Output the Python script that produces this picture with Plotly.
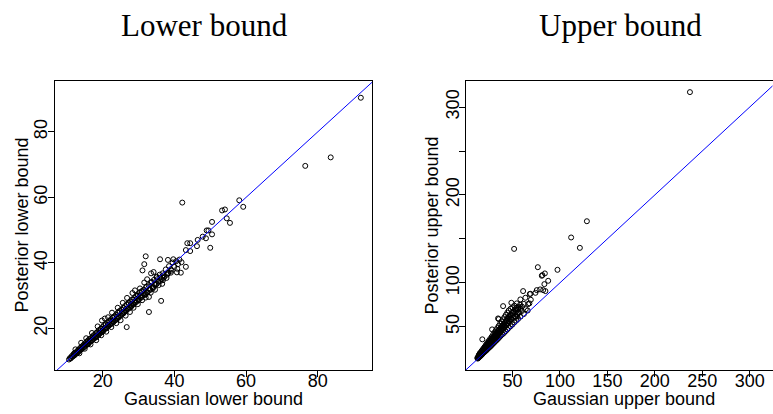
import plotly.graph_objects as go

# ---------------- data: Lower bound panel ----------------
lower_gauss = [
    10.6, 10.9, 11.2, 11.4, 11.7, 11.9, 12.1, 12.3, 12.6, 12.8, 13.0, 13.2, 13.5, 13.7, 13.9, 14.1, 14.3, 14.6, 14.8, 15.0,
    15.2, 15.5, 15.7, 15.9, 16.1, 16.3, 16.5, 16.8, 17.0, 17.2, 17.4, 17.6, 17.9, 18.1, 18.3, 18.5, 18.8, 19.0, 19.2, 19.5,
    19.7, 19.9, 20.2, 20.4, 20.6, 20.9, 21.1, 21.3, 21.6, 21.8, 22.0, 22.3, 22.5, 22.8, 23.0, 23.2, 23.5, 23.7, 24.0, 24.2,
    24.5, 24.7, 25.0, 25.2, 25.5, 25.7, 26.0, 26.2, 26.5, 26.7, 27.0, 27.2, 27.5, 27.7, 28.0, 28.2, 28.5, 28.8, 29.0, 29.3,
    29.5, 29.8, 30.0, 30.3, 30.6, 30.9, 31.2, 31.5, 31.8, 32.1, 32.4, 32.8, 33.2, 33.5, 33.9, 34.3, 34.7, 35.1, 35.5, 35.9,
    36.3, 36.7, 37.2, 37.6, 38.1, 38.5, 39.0, 39.5, 40.0, 40.5, 41.0, 41.4, 42.0,
    12.4, 14.0, 15.4, 17.0, 18.6, 19.8, 20.6, 21.5, 22.6, 24.2, 25.6, 26.8, 28.3, 29.0, 30.4, 31.6, 32.4, 33.5, 34.2, 35.0,
    13.5, 15.0, 16.6, 18.2, 19.6, 21.0, 22.4, 23.8, 25.0, 26.4, 27.6, 28.6, 29.8, 31.0, 32.0, 33.4, 34.6, 35.6, 36.6, 37.8,
    39.0, 40.8, 41.8,
    92.0, 76.5, 83.6, 42.2, 58.1, 59.2, 53.3, 54.1, 54.6, 55.5, 50.5, 50.5, 49.0, 49.5, 47.9, 48.8, 50.0, 46.3, 46.5, 43.6,
    44.4, 43.2, 44.4, 43.2, 40.7, 39.7, 38.2, 36.0, 32.0, 31.6, 31.1, 36.3, 32.9, 26.7, 32.9, 36.8,
    11.0, 11.5, 12.0, 12.5, 13.0, 13.6, 14.2, 14.9, 15.6, 16.2, 16.9, 17.5, 18.2, 18.9, 19.5, 20.2, 20.9, 21.6, 22.3, 23.0,
    23.7, 24.4, 25.1, 25.8, 26.5, 27.2, 27.9, 28.6, 29.3, 30.0, 30.8, 31.6, 32.5, 33.3, 34.1, 35.0, 36.0, 37.0, 38.0, 39.2,
    12.2, 12.9, 13.4, 14.0, 14.6, 15.3, 15.8, 16.4, 17.1, 17.7, 18.4, 19.0, 19.6, 20.3, 20.8, 21.4, 22.1, 22.7, 23.3, 23.9,
    24.6, 25.3, 25.9, 26.6, 27.3, 27.9, 28.5, 29.1, 29.7, 30.4, 31.0, 31.7, 32.3, 33.0, 33.7, 34.4, 35.2, 36.1, 37.0, 38.3,
    16.0, 18.0, 20.0, 22.0, 24.0, 26.0, 28.0, 30.0, 32.0, 34.0,
]
lower_post = [
    10.5, 11.0, 11.0, 11.6, 11.5, 12.2, 11.8, 12.5, 12.3, 13.0, 12.7, 13.4, 13.1, 14.0, 13.5, 14.4, 13.9, 14.8, 14.3, 15.4,
    14.8, 15.9, 15.2, 16.3, 15.6, 16.8, 16.0, 17.0, 16.4, 17.6, 16.9, 18.0, 17.2, 18.5, 17.6, 18.9, 18.0, 19.5, 18.5, 19.9,
    18.9, 20.4, 19.4, 21.0, 19.8, 21.3, 20.2, 21.8, 20.7, 22.2, 21.1, 22.8, 21.6, 23.3, 22.0, 23.6, 22.5, 24.2, 23.0, 24.8,
    23.5, 25.3, 24.0, 25.7, 24.4, 26.3, 25.0, 26.8, 25.5, 27.3, 26.0, 27.8, 26.4, 28.2, 27.0, 28.8, 27.5, 29.3, 28.0, 29.8,
    28.4, 30.4, 29.0, 31.0, 29.5, 31.3, 30.0, 31.8, 30.4, 32.6, 31.0, 33.2, 31.8, 34.0, 32.5, 34.8, 33.3, 35.6, 34.2, 36.4,
    35.0, 36.8, 35.8, 38.0, 36.8, 39.0, 38.0, 40.1, 38.8, 40.5, 39.6, 41.0, 40.2,
    13.6, 15.6, 17.0, 18.6, 20.6, 22.4, 23.0, 23.4, 24.8, 26.3, 27.8, 29.3, 30.8, 31.6, 32.2, 34.0, 35.0, 36.8, 37.2, 35.8,
    12.4, 13.8, 15.1, 16.4, 17.9, 19.0, 20.4, 21.6, 22.5, 23.9, 25.0, 26.3, 27.4, 28.6, 29.4, 30.9, 31.8, 33.2, 33.6, 35.4,
    37.0, 38.2, 37.0,
    90.4, 69.6, 72.2, 58.4, 59.1, 57.1, 56.0, 56.3, 53.6, 52.2, 52.5, 48.7, 49.9, 49.9, 48.0, 47.5, 44.6, 45.1, 47.0, 46.0,
    46.0, 43.9, 43.6, 38.8, 37.1, 41.1, 40.9, 41.1, 42.0, 39.6, 37.7, 28.4, 25.0, 20.4, 29.6, 34.7,
    10.8, 11.3, 11.7, 12.2, 12.6, 13.2, 13.7, 14.4, 15.0, 15.6, 16.2, 16.8, 17.4, 18.1, 18.7, 19.3, 20.0, 20.7, 21.3, 22.0,
    22.6, 23.3, 24.0, 24.6, 25.3, 26.0, 26.6, 27.3, 28.0, 28.6, 29.4, 30.2, 31.0, 31.8, 32.6, 33.5, 34.4, 35.4, 36.4, 37.6,
    12.5, 12.6, 13.6, 13.7, 14.9, 15.0, 16.1, 16.2, 17.3, 17.3, 18.7, 18.6, 19.9, 19.8, 21.2, 21.0, 22.4, 22.2, 23.6, 23.4,
    24.9, 24.6, 26.2, 26.0, 27.6, 27.3, 28.8, 28.4, 30.0, 29.8, 31.4, 30.9, 32.8, 32.0, 34.2, 33.5, 35.0, 35.4, 36.2, 37.0,
    15.3, 17.2, 19.2, 21.2, 23.0, 25.0, 26.8, 28.6, 30.4, 32.2,
]

# ---------------- data: Upper bound panel ----------------
upper_gauss = [
    13.2, 13.5, 13.8, 14.0, 14.3, 14.6, 14.9, 15.2, 15.5, 15.8, 16.1, 16.4, 16.7, 17.0, 17.3, 17.6, 17.9, 18.2, 18.5, 18.8,
    19.1, 19.4, 19.7, 20.0, 20.4, 20.8, 21.2, 21.6, 22.0, 22.4, 22.8, 23.2, 23.6, 24.0, 24.5, 25.0, 25.5, 26.0, 26.5, 27.0,
    27.5, 28.0, 28.5, 29.0, 29.6, 30.2, 30.8, 31.4, 32.0, 32.6, 33.2, 33.8, 34.4, 35.0, 35.6, 36.2, 36.8, 37.4, 38.0, 38.8,
    39.6, 40.4, 41.2, 42.0, 42.8, 43.6, 44.4, 45.2, 46.0, 47.0, 48.0, 49.0, 50.0, 51.0, 52.0, 53.0, 54.0, 55.0, 56.0, 57.0,
    58.5, 60.0, 62.0, 64.0, 66.0,
    14.5, 16.0, 17.5, 19.0, 20.5, 22.0, 23.5, 25.0, 26.5, 28.0, 29.5, 31.0, 32.5, 34.0, 35.5, 37.0, 38.5, 40.0, 41.5, 43.0,
    44.5, 46.0, 48.0, 50.0, 52.0, 54.0, 56.0, 58.0, 60.0, 62.0, 45.0, 47.5, 50.5, 53.0, 39.0, 36.0, 33.0, 30.0, 27.0, 24.0,
    21.0, 18.0, 15.5,
    237.0, 128.4, 111.8, 121.0, 51.7, 76.7, 97.4, 81.5, 84.1, 80.9, 87.6, 83.6, 82.3, 84.7, 75.6, 79.1, 74.2, 61.2, 63.6, 58.3,
    68.2, 69.3, 66.5, 67.8, 54.5, 48.8, 40.1, 34.8, 28.5, 18.2, 35.5, 68.9,
    13.0, 13.6, 14.2, 14.8, 15.4, 16.0, 16.6, 17.3, 18.0, 18.7, 19.4, 20.2, 21.0, 21.8, 22.6, 23.4, 24.2, 25.2, 26.2, 27.2,
    28.2, 29.2, 30.4, 31.6, 32.8, 34.0, 35.2, 36.6, 38.0, 39.4, 41.0, 42.6, 44.2, 46.0, 48.0,
    15.0, 16.5, 18.0, 19.5, 21.0, 22.5, 24.0, 25.5, 27.0, 28.5, 30.0, 31.5, 33.0, 34.5, 36.0, 37.5, 39.0, 40.5, 42.0, 43.5,
    45.0, 46.5, 48.0, 49.5, 51.0, 52.5, 54.0, 55.5, 57.0, 58.5, 20.0, 23.0, 26.0, 29.0, 32.0, 35.0, 38.0, 41.0, 44.0, 47.0,
    50.0, 53.0, 56.0, 17.0, 22.0, 27.0, 31.0, 36.0, 40.0, 45.0, 49.0, 55.0,
]
upper_post = [
    13.8, 14.8, 14.2, 15.6, 14.9, 16.3, 15.4, 17.0, 16.0, 17.8, 16.6, 18.4, 17.3, 19.2, 18.0, 20.0, 18.6, 20.8, 19.3, 21.5,
    20.0, 22.4, 20.6, 23.2, 21.3, 24.0, 22.0, 25.0, 22.8, 26.0, 23.6, 27.0, 24.5, 28.0, 25.4, 29.2, 26.4, 30.2, 27.4, 31.4,
    28.4, 32.6, 29.6, 34.0, 30.8, 35.2, 32.0, 36.6, 33.4, 38.0, 34.6, 39.6, 36.0, 41.2, 37.4, 42.8, 38.8, 44.4, 40.2, 46.0,
    41.6, 48.0, 43.2, 50.0, 45.0, 52.0, 46.8, 54.0, 48.6, 56.0, 50.6, 58.5, 52.6, 60.5, 55.0, 62.0, 57.0, 64.0, 59.0, 66.0,
    61.5, 68.0, 64.5, 70.0, 68.5,
    18.0, 20.5, 22.5, 24.8, 27.0, 29.5, 31.8, 34.0, 36.2, 38.5, 41.0, 43.5, 46.0, 48.5, 51.0, 53.5, 56.0, 58.5, 61.0, 63.5,
    66.0, 68.5, 70.5, 72.0, 74.0, 69.5, 72.5, 75.0, 73.0, 76.0, 60.0, 63.0, 66.0, 66.5, 51.0, 47.0, 43.0, 39.0, 35.0, 31.0,
    27.0, 23.0, 19.5,
    317.0, 170.1, 151.6, 139.8, 138.6, 117.8, 114.8, 108.8, 110.7, 108.0, 102.3, 98.5, 91.7, 90.6, 91.7, 92.5, 88.6, 90.6, 83.0, 81.1,
    87.2, 80.7, 75.8, 76.6, 76.6, 77.3, 73.5, 59.5, 47.0, 35.7, 58.7, 87.5,
    14.6, 15.3, 16.1, 16.9, 17.7, 18.5, 19.3, 20.1, 21.0, 21.9, 22.8, 23.8, 24.8, 25.8, 26.8, 27.8, 28.8, 30.1, 31.4, 32.7,
    34.0, 35.3, 36.8, 38.3, 39.8, 41.3, 42.8, 44.6, 46.4, 48.2, 50.2, 52.2, 54.2, 56.4, 59.0,
    17.0, 19.0, 21.0, 23.2, 25.2, 27.4, 29.6, 31.6, 33.6, 35.8, 38.0, 40.2, 42.2, 44.4, 46.6, 48.6, 50.8, 53.0, 55.0, 57.2,
    59.4, 61.4, 63.6, 65.6, 67.6, 69.6, 71.6, 70.0, 72.0, 70.5, 25.6, 29.5, 33.2, 37.0, 41.0, 45.0, 48.5, 52.5, 56.2, 60.0,
    63.5, 61.0, 66.0, 20.5, 26.5, 32.5, 37.5, 43.5, 48.0, 54.0, 58.5, 62.0,
]

diag_line = [0, 400]

lower_ticks = [20, 40, 60, 80]
upper_x_ticks = [50, 100, 150, 200, 250, 300]
upper_y_ticks = [50, 100, 150, 200, 250, 300]
upper_y_ticktext = ["50", "100", "", "200", "", "300"]

panel_titles = ["Lower bound", "Upper bound"]
x_titles = ["Gaussian lower bound", "Gaussian upper bound"]
y_titles = ["Posterior lower bound", "Posterior upper bound"]

# ---------------- figure ----------------
W, H = 773, 414
fig = go.Figure()

marker = dict(symbol="circle-open", size=5, color="black", line=dict(width=1, color="black"))

fig.add_trace(go.Scatter(x=lower_gauss, y=lower_post, mode="markers", marker=marker,
                         xaxis="x", yaxis="y", showlegend=False, hoverinfo="skip"))
fig.add_trace(go.Scatter(x=diag_line, y=diag_line, mode="lines", line=dict(color="#0000ff", width=1),
                         xaxis="x", yaxis="y", showlegend=False, hoverinfo="skip"))
fig.add_trace(go.Scatter(x=upper_gauss, y=upper_post, mode="markers", marker=marker,
                         xaxis="x2", yaxis="y2", showlegend=False, hoverinfo="skip"))
fig.add_trace(go.Scatter(x=diag_line, y=diag_line, mode="lines", line=dict(color="#0000ff", width=1),
                         xaxis="x2", yaxis="y2", showlegend=False, hoverinfo="skip"))

def px_x(p):
    return p / W

def px_y(p):
    return 1 - p / H

box_top, box_bot = 80.7, 370.0
L_left, L_right = 55.0, 372.3
R_left, R_right = 466.0, 772.5

tick_font = dict(family="Liberation Sans, Arial, sans-serif", size=18, color="black")
axis_common = dict(showline=True, linecolor="black", linewidth=1, mirror=True, ticks="outside",
                   ticklen=6, tickcolor="black", tickwidth=1, showgrid=False, zeroline=False,
                   automargin=False, tickfont=tick_font)

fig.update_layout(
    template="none",
    width=W, height=H,
    margin=dict(l=0, r=0, t=0, b=0, pad=0),
    paper_bgcolor="white", plot_bgcolor="white",
    xaxis=dict(domain=[px_x(L_left), px_x(L_right)], range=[6.7, 95.2], tickvals=lower_ticks,
               anchor="y", ticklabelstandoff=-12, **axis_common),
    yaxis=dict(domain=[px_y(box_bot), px_y(box_top)], range=[7.3, 95.6], tickvals=lower_ticks,
               tickangle=-90, anchor="x", ticklabelstandoff=-6, **axis_common),
    xaxis2=dict(domain=[px_x(R_left), px_x(R_right)], range=[1.0, 324.0], tickvals=upper_x_ticks,
                anchor="y2", ticklabelstandoff=-12, **axis_common),
    yaxis2=dict(domain=[px_y(box_bot), px_y(box_top)], range=[0.8, 330.0], tickvals=upper_y_ticks,
                ticktext=upper_y_ticktext, tickangle=-90, anchor="x2", ticklabelstandoff=-7,
                **axis_common),
)

title_font = dict(family="Liberation Serif, Times New Roman, serif", size=31, color="black")
label_font = dict(family="Liberation Sans, Arial, sans-serif", size=18, color="black")

annotations = [
    dict(text=panel_titles[0], x=px_x(205), y=px_y(25), font=title_font),
    dict(text=panel_titles[1], x=px_x(620), y=px_y(25), font=title_font),
    dict(text=x_titles[0], x=px_x(213.7), y=px_y(399), font=label_font),
    dict(text=x_titles[1], x=px_x(624), y=px_y(399), font=label_font),
    dict(text=y_titles[0], x=px_x(21), y=px_y(225.5), font=label_font, textangle=-90),
    dict(text=y_titles[1], x=px_x(431), y=px_y(225.5), font=label_font, textangle=-90),
]
for a in annotations:
    a.update(xref="paper", yref="paper", showarrow=False, xanchor="center", yanchor="middle")
fig.update_layout(annotations=annotations)

fig.write_html("out.html", config={"displayModeBar": False},
               post_script="document.body.style.margin='0px';document.body.style.overflow='hidden';")
